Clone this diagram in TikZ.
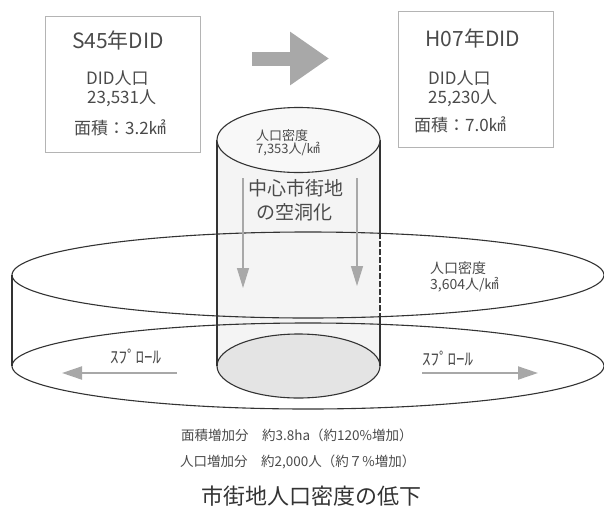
\documentclass[tikz,border=0pt]{standalone}
\usepackage{fontspec}
\setmainfont{Noto Sans CJK JP}
\usetikzlibrary{arrows.meta}

\definecolor{txtgray}{HTML}{4A4A4A}
\definecolor{linegray}{HTML}{333333}
\definecolor{arrgray}{HTML}{A8A8A8}
\definecolor{boxgray}{HTML}{B4B4B4}
\definecolor{cylfill}{HTML}{F4F4F4}
\definecolor{topfill}{HTML}{F8F8F8}
\definecolor{basefill}{HTML}{E4E4E4}

\newcommand\fsz[1]{\fontsize{#1}{#1}\selectfont}

\tikzset{
  didbox/.style = {draw = boxgray, line width = 0.8pt, minimum width = 155pt, minimum height = 136pt, inner sep = 0pt},
  lbl/.style = {text = txtgray, inner sep = 0pt, anchor = west},
  ctr/.style = {text = txtgray, inner sep = 0pt},
  flow/.style = {draw = arrgray, line width = 1.3pt, -{Triangle[length = 20pt, width = 12pt]}},
  sprawl/.style = {draw = arrgray, line width = 2pt, -{Triangle[length = 20pt, width = 13pt]}},
  rim/.style = {draw = linegray, line width = 1.1pt}
}

\begin{document}
\begin{tikzpicture}[x = 1pt, y = -1pt]
\useasboundingbox (0,0) rectangle (604,509);

% boxes
\node[didbox] (S45) at (122.5,84) {};
\node[didbox] (H07) at (475.5,79.5) {};

\node[ctr] (S45t) at (118,40) {\fsz{21}S45年DID};
\node[lbl] (S45a) at (86,78) {\fsz{17}DID人口};
\node[lbl] (S45b) at (87,98) {\fsz{17}23,531人};
\node[lbl] (S45c) at (74,128) {\fsz{17}面積：3.2㎢};

\node[ctr] (H07t) at (473,38) {\fsz{21}H07年DID};
\node[lbl] (H07a) at (428,78) {\fsz{17}DID人口};
\node[lbl] (H07b) at (428,98) {\fsz{17}25,230人};
\node[lbl] (H07c) at (414,125) {\fsz{17}面積：7.0㎢};

\coordinate (go1) at (252,58.5);
\coordinate (go2) at (329,58.5);
\draw[arrgray, line width = 14pt, -{Triangle[length = 39pt, width = 51pt]}] (go1) -- (go2);

% cylinder body
\fill[cylfill] (217,140) rectangle (380,366);

% disk
\coordinate (diskU) at (308,275);
\coordinate (diskL) at (308,366);
\draw[rim] (diskL) ellipse [x radius = 296, y radius = 43];
\draw[rim] (diskU) ellipse [x radius = 296, y radius = 43];
\draw[rim] (12,275) -- (12,366);

% cylinder
\coordinate (cylT) at (298.5,140);
\coordinate (cylB) at (298.5,366);
\draw[rim, fill = basefill] (cylB) ellipse [x radius = 81.5, y radius = 32];
\draw[rim] (217,140) -- (217,366);
\draw[rim] (380,140) -- (380,233);
\draw[rim, dash pattern = on 6pt off 2pt] (380,233) -- (380,317);
\draw[rim] (380,317) -- (380,366);
\draw[rim, fill = topfill] (cylT) ellipse [x radius = 81.5, y radius = 32.5];

\node[lbl] (topd1) at (256,136) {\fsz{13}人口密度};
\node[lbl] (topd2) at (256,149) {\fsz{13}7,353人/㎢};

\node[ctr] (core1) at (296,188) {\fsz{19}中心市街地};
\node[ctr] (core2) at (294,212) {\fsz{19}の空洞化};

\coordinate (dn1a) at (243,178);
\coordinate (dn1b) at (243,288);
\coordinate (dn2a) at (357,178);
\coordinate (dn2b) at (357,286);
\draw[flow] (dn1a) -- (dn1b);
\draw[flow] (dn2a) -- (dn2b);

% disk texts
\node[lbl] (dskd1) at (430,268) {\fsz{14}人口密度};
\node[lbl] (dskd2) at (430,285) {\fsz{14}3,604人/㎢};

\node[lbl] (spl) at (110,357) {\fsz{17}ｽﾌﾟﾛｰﾙ};
\node[lbl] (spr) at (422,359) {\fsz{17}ｽﾌﾟﾛｰﾙ};
\coordinate (sp1a) at (177,373);
\coordinate (sp1b) at (62,373);
\coordinate (sp2a) at (422,373);
\coordinate (sp2b) at (538,373);
\draw[sprawl] (sp1a) -- (sp1b);
\draw[sprawl] (sp2a) -- (sp2b);

% notes
\node[lbl] (nt1) at (181,435) {\fsz{13.5}面積増加分\quad 約3.8ha（約120\%増加）};
\node[lbl] (nt2) at (180,462) {\fsz{13.5}人口増加分\quad 約2,000人（約７\%増加）};
\node[ctr, text = linegray] (ttl) at (311,496) {\fsz{22}市街地人口密度の低下};
\end{tikzpicture}
\end{document}
